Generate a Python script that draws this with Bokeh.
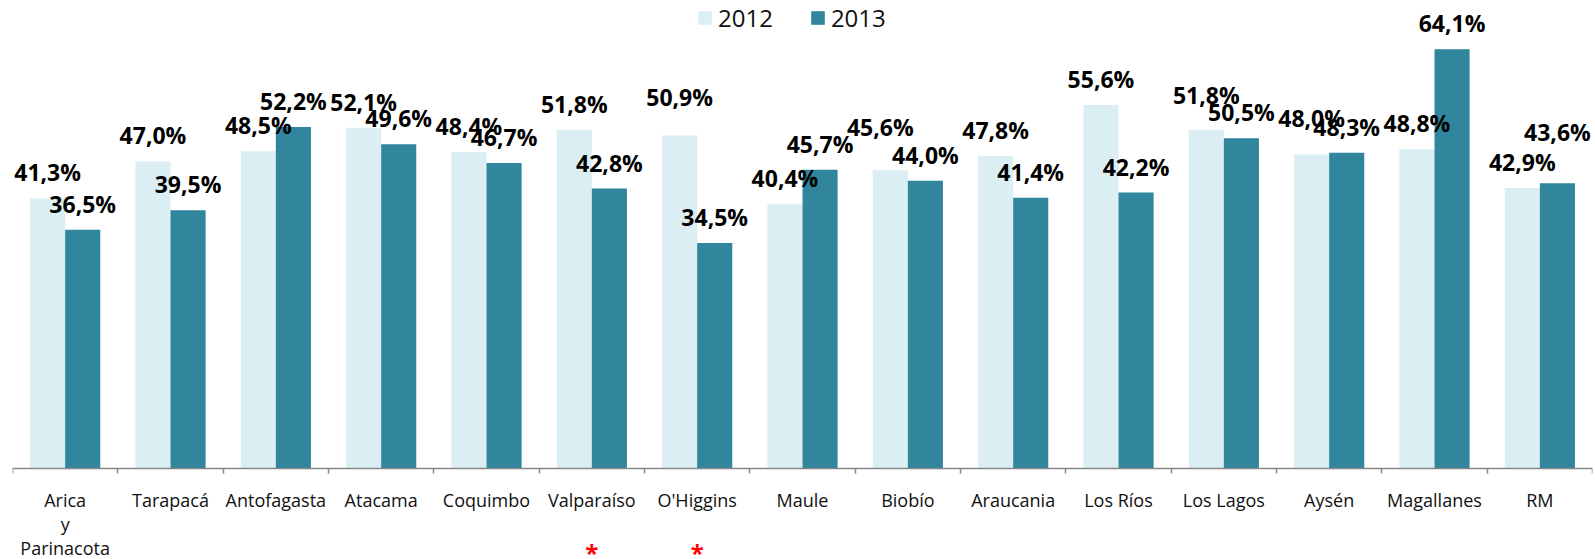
from bokeh.plotting import figure
from bokeh.models import (ColumnDataSource, LabelSet, Label, FixedTicker,
                          Legend, LegendItem, Range1d)
from bokeh.embed import file_html
from bokeh.resources import INLINE
from bokeh.core.properties import value
from bokeh.transform import dodge

# ---------------- data ----------------
regions = ["Arica\ny\nParinacota", "Tarapacá", "Antofagasta", "Atacama",
           "Coquimbo", "Valparaíso", "O'Higgins", "Maule", "Biobío",
           "Araucania", "Los Ríos", "Los Lagos", "Aysén", "Magallanes", "RM"]
v2012 = [41.3, 47.0, 48.5, 52.1, 48.4, 51.8, 50.9, 40.4, 45.6, 47.8,
         55.6, 51.8, 48.0, 48.8, 42.9]
v2013 = [36.5, 39.5, 52.2, 49.6, 46.7, 42.8, 34.5, 45.7, 44.0, 41.4,
         42.2, 50.5, 48.3, 64.1, 43.6]
years = ["2012", "2013"]
flagged = ["Valparaíso", "O'Higgins"]

# ---------------- style ----------------
C_LIGHT = "#DAEEF3"
C_DARK = "#31859C"
FONT = "Open Sans"
BASE_GAP = 17
# manual label nudges (pixels) as in the original chart
lift_2012 = {6: 13, 8: 17, 11: 9, 12: 11}
shift_2012 = {8: -10}
lift_2013 = {14: 25}

n = len(regions)
idx = list(range(n))


def fmt(v):
    return f"{v:.1f}".replace(".", ",") + "%"


src = ColumnDataSource(dict(
    idx=idx,
    v2012=v2012,
    v2013=v2013,
    t2012=[fmt(v) for v in v2012],
    t2013=[fmt(v) for v in v2013],
    dy2012=[BASE_GAP + lift_2012.get(i, 0) for i in idx],
    dx2012=[shift_2012.get(i, 0) for i in idx],
    dy2013=[BASE_GAP + lift_2013.get(i, 0) for i in idx],
))

W, H = 1595, 559
# the frame spans the whole height; the category axis sits at y = 0
p = figure(width=W, height=H, output_backend="svg", toolbar_location=None,
           x_range=Range1d(-0.5, n - 0.5), y_range=Range1d(-13.91, 71.56),
           y_axis_location=None, min_border_left=12, min_border_right=3,
           min_border_top=0, min_border_bottom=0)
p.outline_line_color = None
p.xgrid.visible = False
p.ygrid.visible = False
p.background_fill_color = "white"
p.border_fill_color = "white"

bw = 1 / 3
r1 = p.vbar(x=dodge("idx", -bw / 2, range=p.x_range), top="v2012", width=bw,
            bottom=0, source=src, fill_color=C_LIGHT, line_color=None)
r2 = p.vbar(x=dodge("idx", bw / 2, range=p.x_range), top="v2013", width=bw,
            bottom=0, source=src, fill_color=C_DARK, line_color=None)

lab_common = dict(source=src, text_align="center", text_baseline="alphabetic",
                  text_font=value(FONT), text_font_style="bold",
                  text_font_size="23px", text_color="#000000")
p.add_layout(LabelSet(x=dodge("idx", -bw / 2, range=p.x_range), y="v2012",
                      text="t2012", y_offset="dy2012", x_offset="dx2012",
                      **lab_common))
p.add_layout(LabelSet(x=dodge("idx", bw / 2, range=p.x_range), y="v2013",
                      text="t2013", y_offset="dy2013", **lab_common))

# asterisks under flagged regions
names_plain = [r.replace("\n", " ") for r in regions]
for f in flagged:
    p.add_layout(Label(x=names_plain.index(f), y=0, text="*", y_offset=-84,
                       text_align="center", text_baseline="alphabetic",
                       text_font=FONT, text_font_style="bold",
                       text_font_size="24px", text_color="#FF0000"))

# x axis: labels at centres, ticks at category boundaries
ax = p.xaxis[0]
ax.fixed_location = 0
ax.ticker = FixedTicker(ticks=idx, minor_ticks=[i - 0.5 for i in range(n + 1)])
ax.major_label_overrides = {i: regions[i] for i in idx}
ax.axis_line_color = "#878787"
ax.axis_line_width = 1.5
ax.major_tick_in = 0
ax.major_tick_out = 0
ax.minor_tick_in = 0
ax.minor_tick_out = 5
ax.minor_tick_line_color = "#878787"
ax.minor_tick_line_width = 1.5
ax.major_label_standoff = 14
ax.major_label_text_font = FONT
ax.major_label_text_font_size = "18px"
ax.major_label_text_color = "#111111"
ax.major_label_text_line_height = 1.0

legend = Legend(items=[LegendItem(label=years[0], renderers=[r1]),
                       LegendItem(label=years[1], renderers=[r2])],
                orientation="horizontal", location=(684, 525),
                glyph_width=17, glyph_height=17, label_standoff=5,
                spacing=36, padding=0, margin=0, border_line_color=None,
                background_fill_alpha=0, label_text_font=FONT,
                label_text_font_size="24px", label_text_color="#111111")
p.add_layout(legend)

open("out.html", "w").write(file_html(p, INLINE))
